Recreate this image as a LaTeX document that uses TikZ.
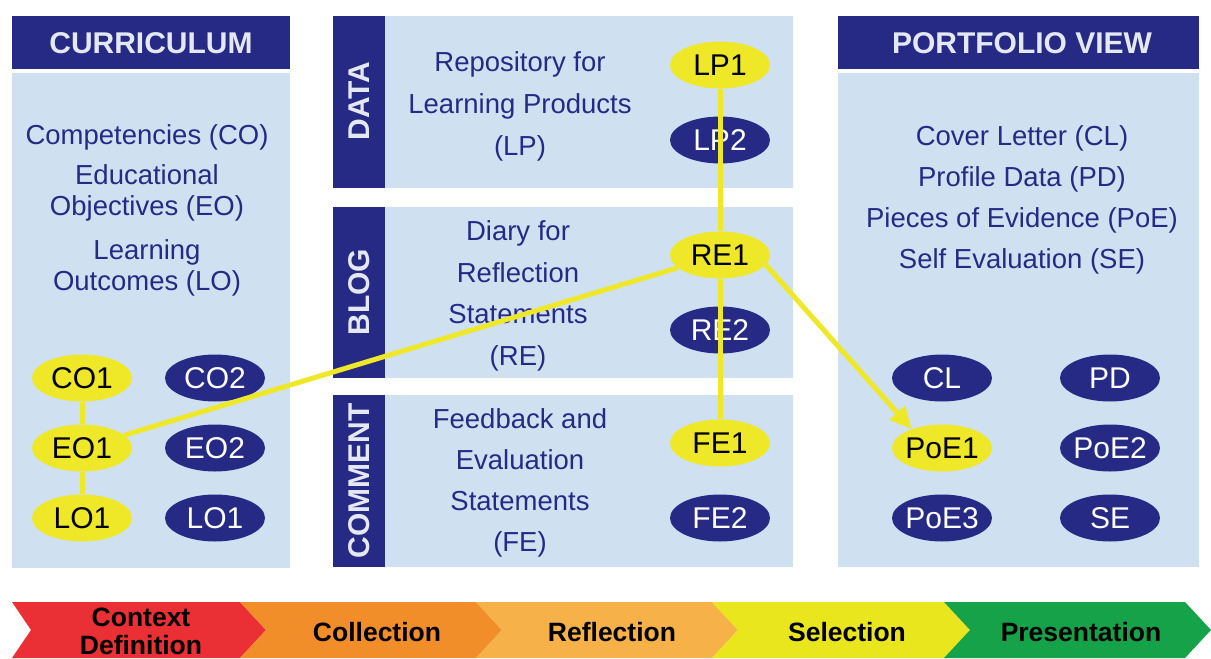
\documentclass[tikz,border=0pt]{standalone}
\usepackage{fontspec}
\setmainfont{Liberation Sans}
\usetikzlibrary{arrows.meta,shapes.geometric}
\definecolor{navy}{RGB}{38,42,132}
\definecolor{panelblue}{RGB}{207,225,241}
\definecolor{yel}{RGB}{238,232,40}
\definecolor{titletext}{RGB}{228,232,242}
\definecolor{stred}{RGB}{234,48,52}
\definecolor{storange}{RGB}{241,142,42}
\definecolor{stlorange}{RGB}{246,178,72}
\definecolor{styellow}{RGB}{234,230,30}
\definecolor{stgreen}{RGB}{22,162,72}
\newcommand{\elbox}[1]{\makebox[40pt]{#1}}
\begin{document}
\begin{tikzpicture}[x=1pt,y=-1pt,
  panel/.style={fill=panelblue},
  navybox/.style={fill=navy},
  titletxt/.style={text=titletext,font=\bfseries\fontsize{30}{30}\selectfont},
  tabtxt/.style={rotate=90,text=titletext,font=\bfseries\fontsize{30}{30}\selectfont},
  paneltext/.style={align=center,text=navy,inner sep=0pt,font=\fontsize{27.5}{31}\selectfont},
  widetext/.style={align=center,text=navy,inner sep=0pt,font=\fontsize{27.5}{41.5}\selectfont},
  ynode/.style={ellipse,fill=yel,minimum width=100pt,minimum height=47pt,inner sep=0pt,text=black,font=\fontsize{30}{30}\selectfont},
  bnode/.style={ellipse,fill=navy,minimum width=100pt,minimum height=47pt,inner sep=0pt,text=white,font=\fontsize{30}{30}\selectfont},
  link/.style={draw=yel,line width=5pt},
  stagetxt/.style={align=center,text=black,inner sep=0pt,font=\bfseries\fontsize{26.5}{28}\selectfont}
]
\useasboundingbox (0,0) rectangle (1211,659);
\fill[white] (0,0) rectangle (1211,659);

% ---------- left: curriculum ----------
\fill[navybox] (12,16) rectangle (290,69);
\fill[panel] (12,73) rectangle (290,568);
\node[titletxt] (curT) at (151,43) {CURRICULUM};
\node[paneltext] (coT) at (147,137) {Competencies (CO)};
\node[paneltext] (eoT) at (147,193) {Educational\\Objectives (EO)};
\node[paneltext] (loT) at (147,268) {Learning\\Outcomes (LO)};

\node[ynode] (CO1) at (82,378) {\elbox{CO1}};
\node[bnode] (CO2) at (215,378) {\elbox{CO2}};
\node[ynode] (EO1) at (82,448) {\elbox{EO1}};
\node[bnode] (EO2) at (215,448) {\elbox{EO2}};
\node[ynode] (LO1) at (82,518) {\elbox{LO1}};
\node[bnode] (LO1b) at (215,518) {\elbox{LO1}};

% ---------- middle ----------
\fill[navybox] (333,16) rectangle (385,188);
\fill[panel] (385,16) rectangle (793,188);
\fill[navybox] (333,207) rectangle (385,378);
\fill[panel] (385,207) rectangle (793,378);
\fill[navybox] (333,395) rectangle (385,567);
\fill[panel] (385,395) rectangle (793,567);
\node[tabtxt] (dataT) at (359,101) {DATA};
\node[tabtxt] (blogT) at (359,292) {BLOG};
\node[tabtxt] (commT) at (359,481) {COMMENT};

\node[widetext,font=\fontsize{27.5}{42}\selectfont] (lpT) at (520,106) {Repository for\\Learning Products\\(LP)};
\node[widetext] (reT) at (518,296) {Diary for\\Reflection\\Statements\\(RE)};
\node[widetext,font=\fontsize{27.5}{41}\selectfont] (feT) at (520,483) {Feedback and\\Evaluation\\Statements\\(FE)};

\node[ynode] (LP1) at (720,65) {\elbox{LP1}};
\node[bnode] (LP2) at (720,140) {\elbox{LP2}};
\node[ynode] (RE1) at (720,255) {\elbox{RE1}};
\node[bnode] (RE2) at (720,330) {\elbox{RE2}};
\node[ynode] (FE1) at (720,443) {\elbox{FE1}};
\node[bnode] (FE2) at (720,518) {\elbox{FE2}};

% ---------- right: portfolio view ----------
\fill[navybox] (838,16) rectangle (1199,69);
\fill[panel] (838,73) rectangle (1199,567);
\node[titletxt] (pvTitle) at (1022,43) {PORTFOLIO VIEW};
\node[widetext,font=\fontsize{27.5}{41}\selectfont] (pvT) at (1022,200) {Cover Letter (CL)\\Profile Data (PD)\\Pieces of Evidence (PoE)\\Self Evaluation (SE)};

\node[bnode] (CL) at (942,378) {\elbox{CL}};
\node[bnode] (PD) at (1110,378) {\elbox{PD}};
\node[ynode] (PoE1) at (942,448) {\elbox{PoE1}};
\node[bnode] (PoE2) at (1110,448) {\elbox{PoE2}};
\node[bnode] (PoE3) at (942,518) {\elbox{PoE3}};
\node[bnode] (SE) at (1110,518) {\elbox{SE}};

% ---------- connectors ----------
\draw[link] (CO1) -- (EO1);
\draw[link] (EO1) -- (LO1);
\draw[link] (EO1) -- (RE1);
\draw[link] (LP1) -- (RE1);
\draw[link] (RE1) -- (FE1);
\draw[link,-{Triangle[length=22pt,width=20pt]}] (RE1.-12) -- (PoE1.148);

% ---------- stage bar ----------
\fill[stred] (12,602) -- (240,602) -- (266,630) -- (240,658) -- (12,658) -- (31,630) -- cycle;
\fill[storange] (240,602) -- (476,602) -- (502,630) -- (476,658) -- (240,658) -- (266,630) -- cycle;
\fill[stlorange] (476,602) -- (712,602) -- (738,630) -- (712,658) -- (476,658) -- (502,630) -- cycle;
\fill[styellow] (712,602) -- (944,602) -- (970,630) -- (944,658) -- (712,658) -- (738,630) -- cycle;
\fill[stgreen] (944,602) -- (1185,602) -- (1211,630) -- (1185,658) -- (944,658) -- (970,630) -- cycle;
\node[stagetxt] (s1) at (141,631) {Context\\Definition};
\node[stagetxt] (s2) at (377,632) {Collection};
\node[stagetxt] (s3) at (612,632) {Reflection};
\node[stagetxt] (s4) at (847,632) {Selection};
\node[stagetxt] (s5) at (1081,632) {Presentation};
\end{tikzpicture}
\end{document}
